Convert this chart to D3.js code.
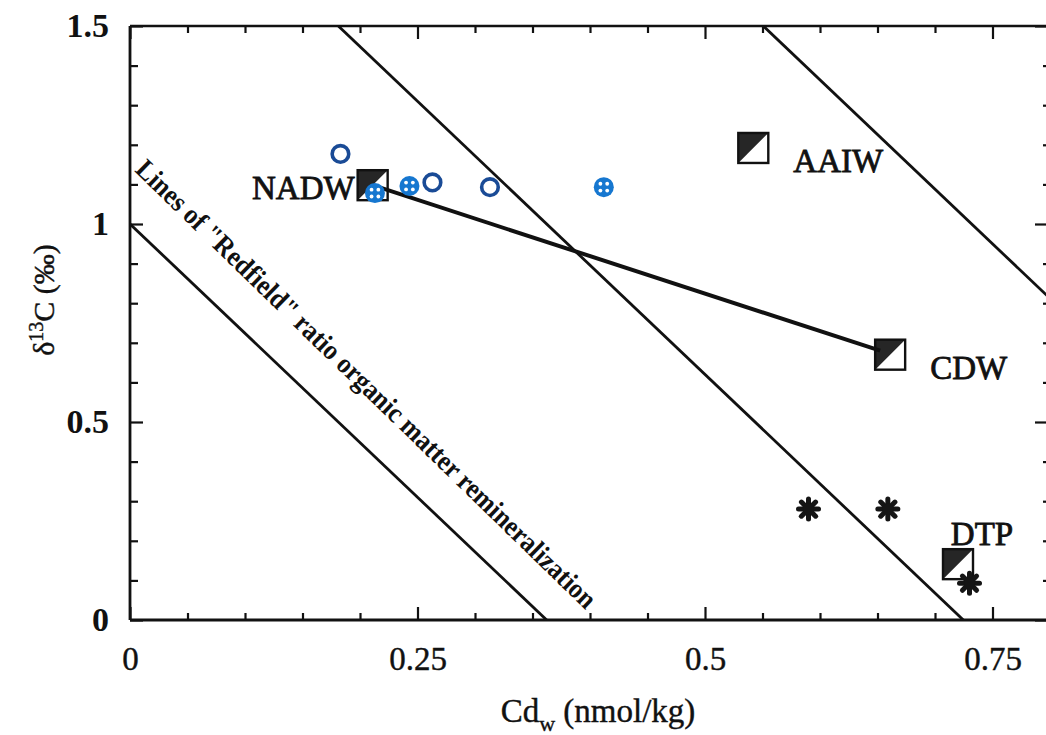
<!DOCTYPE html>
<html>
<head>
<meta charset="utf-8">
<script src="https://cdn.jsdelivr.net/npm/d3@7"></script>
<style>
  body { margin: 0; background: #fff; }
  svg { display: block; }
  text { font-family: "Liberation Serif", "Times New Roman", serif; fill: #111; }
</style>
</head>
<body>
<svg id="chart" width="1046" height="735"></svg>
<script>
// ---- data ----
const xMajorTicks = [0, 0.25, 0.5, 0.75];
const xTickLabels = ["0", "0.25", "0.5", "0.75"];
const yMajorTicks = [0, 0.5, 1, 1.5];
const yTickLabels = ["0", "0.5", "1", "1.5"];

// open dark-blue circles
const openCircleX = [0.183, 0.263, 0.313];
const openCircleY = [1.177, 1.105, 1.093];
// filled light-blue circles with dots
const dotCircleX = [0.213, 0.243, 0.412];
const dotCircleY = [1.078, 1.096, 1.093];
// water mass end-members (half-filled squares)
const waterMasses = ["NADW", "AAIW", "CDW", "DTP"];
const waterMassX = [0.211, 0.542, 0.661, 0.720];
const waterMassY = [1.098, 1.192, 0.670, 0.141];
// asterisks
const starX = [0.590, 0.659, 0.730];
const starY = [0.280, 0.280, 0.093];
// mixing line NADW -> CDW
const mixFrom = "NADW", mixTo = "CDW";
// Redfield remineralization lines: d13C = intercept + slope * Cd
const redfieldIntercepts = [1.0, 2.0, 3.02];
const redfieldSlope = -2.76;

// ---- layout ----
const svg = d3.select("#chart");
const x = d3.scaleLinear().domain([0, 0.8]).range([130, 1050]);
const y = d3.scaleLinear().domain([0, 1.5]).range([620, 26]);
const [x0, x1] = x.range();
const [y0, y1] = y.range();

svg.append("defs").append("clipPath").attr("id", "plotclip")
  .append("rect").attr("x", x0).attr("y", y1).attr("width", x1 - x0).attr("height", y0 - y1);

// Redfield lines
const plot = svg.append("g").attr("clip-path", "url(#plotclip)");
redfieldIntercepts.forEach(b => {
  plot.append("line")
    .attr("x1", x(0)).attr("y1", y(b))
    .attr("x2", x(1.2)).attr("y2", y(b + redfieldSlope * 1.2))
    .attr("stroke", "#111").attr("stroke-width", 2.8);
});

// rotated annotation
const ang = 44.2;
svg.append("text")
  .attr("transform", `translate(134,171) rotate(${ang})`)
  .attr("font-size", 28).attr("font-weight", "bold")
  .attr("textLength", 630).attr("lengthAdjust", "spacingAndGlyphs")
  .text('Lines of "Redfield" ratio organic matter remineralization');

// axes
function addAxis(axisGen, transform) {
  const g = svg.append("g").attr("transform", transform).call(axisGen);
  g.select(".domain").remove();
  g.selectAll(".tick line").attr("stroke", "#111").attr("stroke-width", 2.2);
  return g;
}
const xMinor = d3.range(0, 0.801, 0.05).filter(v => !xMajorTicks.some(m => Math.abs(m - v) < 1e-6));
const yMinor = d3.range(0, 1.501, 0.1).filter(v => !yMajorTicks.some(m => Math.abs(m - v) < 1e-6));

// bottom
addAxis(d3.axisBottom(x).tickValues(xMinor).tickSize(-7).tickFormat(""), `translate(0,${y0})`);
const bx = addAxis(d3.axisBottom(x).tickValues(xMajorTicks).tickSize(-13).tickPadding(27)
  .tickFormat((d, i) => xTickLabels[i]), `translate(0,${y0})`);
bx.selectAll("text").attr("font-size", 33).attr("font-family", "Liberation Serif, serif").attr("fill", "#111")
  .attr("stroke", "#111").attr("stroke-width", 0.4);
// top
addAxis(d3.axisTop(x).tickValues(xMinor).tickSize(-7).tickFormat(""), `translate(0,${y1})`);
addAxis(d3.axisTop(x).tickValues(xMajorTicks).tickSize(-13).tickFormat(""), `translate(0,${y1})`);
// left
addAxis(d3.axisLeft(y).tickValues(yMinor).tickSize(-8).tickFormat(""), `translate(${x0},0)`);
const ly = addAxis(d3.axisLeft(y).tickValues(yMajorTicks).tickSize(-13).tickPadding(21)
  .tickFormat((d, i) => yTickLabels[i]), `translate(${x0},0)`);
ly.selectAll("text").attr("font-size", 34).attr("font-weight", "bold").attr("font-family", "Liberation Serif, serif").attr("fill", "#111");
// right
addAxis(d3.axisRight(y).tickValues(yMinor).tickSize(-7).tickFormat(""), `translate(${x1},0)`);
addAxis(d3.axisRight(y).tickValues(yMajorTicks).tickSize(-15).tickFormat(""), `translate(${x1},0)`);

// frame
svg.append("line").attr("x1", x0).attr("x2", x1).attr("y1", y0).attr("y2", y0).attr("stroke", "#111").attr("stroke-width", 3.2);
svg.append("line").attr("x1", x0).attr("x2", x1).attr("y1", y1).attr("y2", y1).attr("stroke", "#111").attr("stroke-width", 2.4);
svg.append("line").attr("x1", x0).attr("x2", x0).attr("y1", y1).attr("y2", y0).attr("stroke", "#111").attr("stroke-width", 2.8);
svg.append("line").attr("x1", x1).attr("x2", x1).attr("y1", y1).attr("y2", y0).attr("stroke", "#111").attr("stroke-width", 2.6);

// axis titles
const yt = svg.append("text").attr("transform", "translate(54,300) rotate(-90)")
  .attr("text-anchor", "middle").attr("font-size", 30).attr("stroke", "#111").attr("stroke-width", 0.4);
yt.append("tspan").text("δ");
yt.append("tspan").attr("font-size", 20).attr("dy", -11).text("13");
yt.append("tspan").attr("dy", 11).text("C (‰)");

const xt = svg.append("text").attr("x", 598).attr("y", 722)
  .attr("text-anchor", "middle").attr("font-size", 33).attr("stroke", "#111").attr("stroke-width", 0.4);
xt.append("tspan").text("Cd");
xt.append("tspan").attr("font-size", 22).attr("dy", 9).text("w");
xt.append("tspan").attr("dy", -9).text(" (nmol/kg)");

// open circles
svg.selectAll(".oc").data(openCircleX).join("circle")
  .attr("cx", (d, i) => x(d)).attr("cy", (d, i) => y(openCircleY[i]))
  .attr("r", 8.3).attr("fill", "none").attr("stroke", "#1a4b96").attr("stroke-width", 3.6);

// squares
const sq = 30;
const wm = waterMasses.map((n, i) => ({ name: n, cx: x(waterMassX[i]), cy: y(waterMassY[i]) }));
wm.forEach(d => {
  const g = svg.append("g").attr("transform", `translate(${d.cx - sq / 2},${d.cy - sq / 2})`);
  g.append("rect").attr("width", sq).attr("height", sq).attr("fill", "#fff");
  g.append("path").attr("d", `M0,0 H${sq} L0,${sq} Z`).attr("fill", "#262626");
  g.append("rect").attr("width", sq).attr("height", sq).attr("fill", "none").attr("stroke", "#111").attr("stroke-width", 2.4);
});

// mixing line
const a = wm.find(d => d.name === mixFrom), b = wm.find(d => d.name === mixTo);
svg.append("line").attr("x1", a.cx).attr("y1", a.cy).attr("x2", b.cx - 10).attr("y2", b.cy - 4)
  .attr("stroke", "#111").attr("stroke-width", 4);

// water mass labels
const labelPos = {
  NADW: { dx: -18, dy: 14, anchor: "end" },
  AAIW: { dx: 40, dy: 24, anchor: "start" },
  CDW: { dx: 40, dy: 24, anchor: "start" },
  DTP: { dx: 24, dy: -19, anchor: "middle" }
};
wm.forEach(d => {
  const p = labelPos[d.name];
  svg.append("text").attr("x", d.cx + p.dx).attr("y", d.cy + p.dy)
    .attr("text-anchor", p.anchor).attr("font-size", 33)
    .attr("stroke", "#111").attr("stroke-width", 0.8).text(d.name);
});

// dotted light-blue circles
dotCircleX.forEach((v, i) => {
  const g = svg.append("g").attr("transform", `translate(${x(v)},${y(dotCircleY[i])})`);
  g.append("circle").attr("r", 10).attr("fill", "#1677d0");
  [[-3.4, -3.4], [3.4, -3.4], [-3.4, 3.4], [3.4, 3.4]].forEach(([dx, dy]) =>
    g.append("circle").attr("cx", dx).attr("cy", dy).attr("r", 1.9).attr("fill", "#fff"));
});

// asterisks
starX.forEach((v, i) => {
  const g = svg.append("g").attr("transform", `translate(${x(v)},${y(starY[i])})`);
  [0, 45, 90, 135].forEach(a2 => {
    const r = 10, t = a2 * Math.PI / 180;
    g.append("line").attr("x1", -r * Math.cos(t)).attr("y1", -r * Math.sin(t))
      .attr("x2", r * Math.cos(t)).attr("y2", r * Math.sin(t))
      .attr("stroke", "#151515").attr("stroke-width", 5).attr("stroke-linecap", "round");
  });
  g.append("circle").attr("r", 5.5).attr("fill", "#151515");
});
</script>
</body>
</html>
